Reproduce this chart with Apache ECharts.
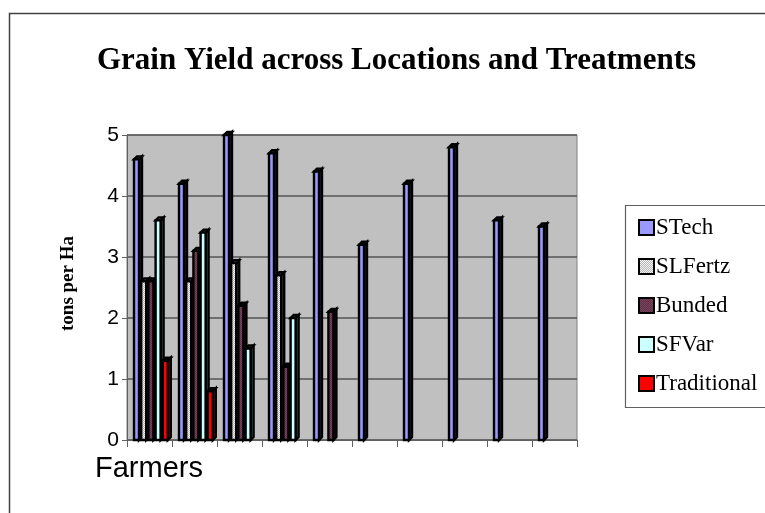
<!DOCTYPE html>
<html>
<head>
<meta charset="utf-8">
<script src="https://cdn.jsdelivr.net/npm/echarts@6/dist/echarts.min.js"></script>
<style>
  html, body { margin: 0; padding: 0; background: #fff; }
  #chart { width: 765px; height: 513px; }
</style>
</head>
<body>
<div id="chart"></div>
<script>
var farmers = ['F1', 'F2', 'F3', 'F4', 'F5', 'F6', 'F7', 'F8', 'F9', 'F10'];
var seriesNames = ['STech', 'SLFertz', 'Bunded', 'SFVar', 'Traditional'];
var stech = [4.6, 4.2, 5.0, 4.7, 4.4, 3.2, 4.2, 4.8, 3.6, 3.5];
var slFertz = [2.6, 2.6, 2.9, 2.7, null, null, null, null, null, null];
var bunded = [2.6, 3.1, 2.2, 1.2, 2.1, null, null, null, null, null];
var sfVar = [3.6, 3.4, 1.5, 2.0, null, null, null, null, null, null];
var traditional = [1.3, 0.8, null, null, null, null, null, null, null, null];
var yTicks = [0, 1, 2, 3, 4, 5];

function checker(c1, c2) {
    var cv = document.createElement('canvas');
    cv.width = 2; cv.height = 2;
    var ctx = cv.getContext('2d');
    ctx.fillStyle = c1;
    ctx.fillRect(0, 0, 2, 2);
    ctx.fillStyle = c2;
    ctx.fillRect(0, 0, 1, 1);
    ctx.fillRect(1, 1, 1, 1);
    return { image: cv, repeat: 'repeat' };
}

var fills = ['#9999ff', checker('#b8b8b8', '#f0f0f0'), checker('#993366', '#404040'), '#ccffff', '#ff0000'];
var sides = ['#222244', '#505050', '#301830', '#507070', '#700000'];
var values = [stech, slFertz, bunded, sfVar, traditional];

// fake 3d column: front face + right side + top
function renderBar(params, api) {
    var val = api.value(1);
    if (val == null || isNaN(val)) return;
    var cat = api.value(0);
    var base = api.coord([cat, 0]);
    var top = api.coord([cat, val]);
    var band = api.size([1, 0])[0];
    var slot = band * 0.8 / seriesNames.length;
    var i = params.seriesIndex;
    var x = base[0] - band * 0.4 + 2.5 + i * slot;
    var fw = slot - 2.2, d = 3;
    var stroke = { stroke: '#000', lineWidth: 2.4, lineJoin: 'miter' };
    return {
        type: 'group',
        children: [
            {
                type: 'polygon',
                shape: { points: [[x + fw, top[1]], [x + fw + d, top[1] - d], [x + fw + d, base[1] - d], [x + fw, base[1]]] },
                style: Object.assign({ fill: sides[i] }, stroke)
            },
            {
                type: 'polygon',
                shape: { points: [[x, top[1]], [x + d, top[1] - d], [x + fw + d, top[1] - d], [x + fw, top[1]]] },
                style: Object.assign({ fill: sides[i] }, stroke)
            },
            {
                type: 'rect',
                shape: { x: x, y: top[1], width: fw, height: base[1] - top[1] },
                style: Object.assign({ fill: fills[i] }, stroke)
            }
        ]
    };
}

var series = seriesNames.map(function (name, i) {
    return {
        name: name,
        type: 'custom',
        renderItem: renderBar,
        encode: { x: 0, y: 1 },
        itemStyle: { color: fills[i], borderColor: '#000', borderWidth: 1.5 },
        data: values[i].map(function (v, k) { return [k, v]; })
    };
});

var myChart = echarts.init(document.getElementById('chart'));
var option = {
    animation: false,
    backgroundColor: '#fff',
    title: {
        text: 'Grain Yield across Locations and Treatments',
        left: 92,
        top: 40,
        textStyle: {
            fontFamily: 'Liberation Serif',
            fontWeight: 'bold',
            fontSize: 31,
            color: '#000'
        }
    },
    legend: {
        orient: 'vertical',
        left: 633,
        top: 211,
        itemWidth: 15,
        itemHeight: 15,
        itemGap: 16,
        icon: 'rect',
        data: seriesNames,
        textStyle: {
            fontFamily: 'Liberation Serif',
            fontSize: 23,
            color: '#000',
            padding: [0, 0, 0, -3]
        }
    },
    grid: {
        left: 127,
        right: 188,
        top: 135,
        bottom: 73,
        show: true,
        backgroundColor: '#c0c0c0',
        borderColor: '#808080',
        borderWidth: 1
    },
    xAxis: {
        type: 'category',
        data: farmers,
        boundaryGap: true,
        axisLabel: { show: false },
        axisTick: { show: true, length: 7, lineStyle: { color: '#606060' } },
        axisLine: { show: true, lineStyle: { color: '#606060', width: 1 } }
    },
    yAxis: {
        type: 'value',
        min: yTicks[0],
        max: yTicks[yTicks.length - 1],
        interval: 1,
        name: 'tons per Ha',
        nameLocation: 'middle',
        nameGap: 49,
        nameRotate: 90,
        nameTextStyle: {
            fontFamily: 'Liberation Serif',
            fontWeight: 'bold',
            fontSize: 19,
            color: '#000',
            padding: [0, 0, 0, 8]
        },
        axisLine: { show: true, lineStyle: { color: '#606060' } },
        axisTick: { show: true, length: 5, lineStyle: { color: '#606060' } },
        splitLine: { lineStyle: { color: '#555', width: 1.5 } },
        axisLabel: {
            fontFamily: 'Liberation Sans',
            fontSize: 21,
            color: '#000',
            margin: 8
        }
    },
    graphic: [
        {
            type: 'rect',
            left: 7,
            top: 11,
            shape: { width: 800, height: 600 },
            style: { fill: null, stroke: '#404040', lineWidth: 1.5 },
            z: 100
        },
        {
            type: 'rect',
            left: 623,
            top: 203,
            shape: { width: 160, height: 202 },
            style: { fill: null, stroke: '#606060', lineWidth: 1.2 },
            z: 100
        },
        {
            type: 'text',
            left: 95,
            top: 454,
            style: {
                text: 'Farmers',
                fontFamily: 'Liberation Sans',
                fontSize: 29,
                fill: '#000'
            }
        }
    ],
    series: series
};

myChart.setOption(option);
</script>
</body>
</html>
